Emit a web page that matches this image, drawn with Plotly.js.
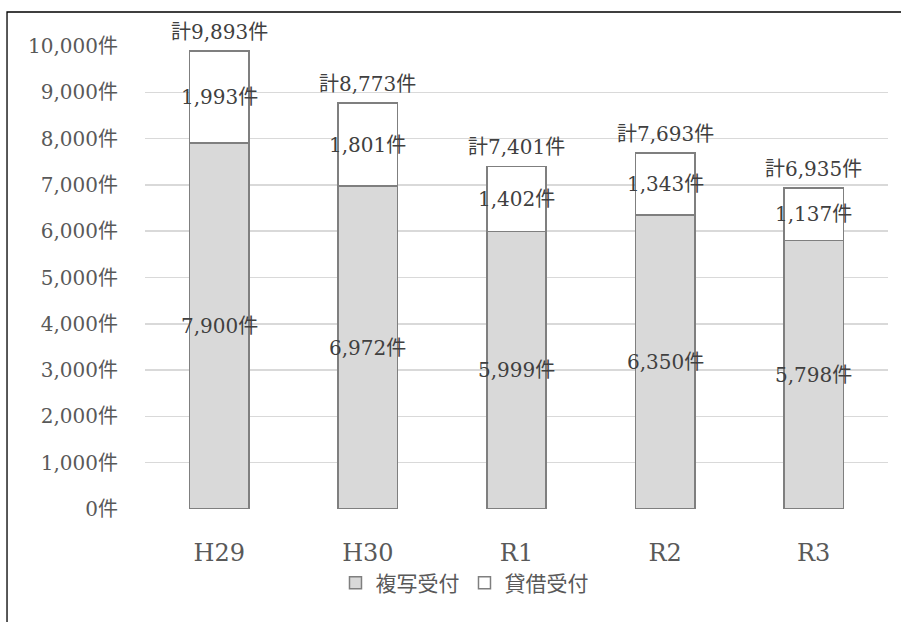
<!DOCTYPE html>
<html>
<head>
<meta charset="utf-8">
<script src="https://cdn.plot.ly/plotly-3.0.1.min.js"></script>
<style>
  html, body { margin: 0; padding: 0; background: #ffffff; }
  #chart { width: 901px; height: 622px; }
</style>
</head>
<body>
<div id="chart"></div>
<script>
// 年度別の受付件数（複写・貸借）
const years = ['H29', 'H30', 'R1', 'R2', 'R3'];
const copyCounts = [7900, 6972, 5999, 6350, 5798];
const loanCounts = [1993, 1801, 1402, 1343, 1137];
const totals = [9893, 8773, 7401, 7693, 6935];
const seriesNames = ['複写受付', '貸借受付'];
const yTickVals = [0, 1000, 2000, 3000, 4000, 5000, 6000, 7000, 8000, 9000, 10000];
const yTickText = ['0件', '1,000件', '2,000件', '3,000件', '4,000件', '5,000件',
                   '6,000件', '7,000件', '8,000件', '9,000件', '10,000件'];

const FONT = "DejaVu Serif, Noto Sans CJK JP";
const fmt = v => v.toLocaleString('en-US');

const traces = [
  {
    type: 'bar', name: seriesNames[0], x: years, y: copyCounts,
    marker: { color: '#d9d9d9', line: { color: '#7f7f7f', width: 1.5 } },
    hoverinfo: 'skip'
  },
  {
    type: 'bar', name: seriesNames[1], x: years, y: loanCounts,
    marker: { color: '#ffffff', line: { color: '#7f7f7f', width: 1.5 } },
    hoverinfo: 'skip'
  }
];

const labelFont = { family: FONT, size: 20, color: '#404040' };
const annotations = [];
years.forEach((yr, i) => {
  // 複写受付の件数（棒の中央）
  annotations.push({
    x: yr, y: copyCounts[i] / 2, xref: 'x', yref: 'y',
    text: fmt(copyCounts[i]) + '件', showarrow: false, font: labelFont
  });
  // 貸借受付の件数
  annotations.push({
    x: yr, y: copyCounts[i] + loanCounts[i] / 2, xref: 'x', yref: 'y',
    text: fmt(loanCounts[i]) + '件', showarrow: false, font: labelFont
  });
  // 合計
  annotations.push({
    x: yr, y: totals[i], xref: 'x', yref: 'y', yanchor: 'bottom', yshift: 5,
    text: '計' + fmt(totals[i]) + '件', showarrow: false, font: labelFont
  });
});

const layout = {
  width: 901, height: 622,
  margin: { l: 145, r: 13, t: 46, b: 113 },
  paper_bgcolor: '#ffffff', plot_bgcolor: '#ffffff',
  barmode: 'stack',
  bargap: 0.6,
  showlegend: true,
  legend: {
    orientation: 'h', x: 0.43, xanchor: 'center', y: -0.16, yanchor: 'middle',
    font: { family: FONT, size: 21, color: '#595959' },
    traceorder: 'normal'
  },
  xaxis: {
    type: 'category',
    showgrid: false, zeroline: false, showline: false,
    ticks: 'outside', ticklen: 22, tickcolor: 'rgba(0,0,0,0)',
    tickfont: { family: FONT, size: 24, color: '#595959' }
  },
  yaxis: {
    range: [0, 10000],
    tickmode: 'array', tickvals: yTickVals, ticktext: yTickText,
    showgrid: true, gridcolor: '#d9d9d9', gridwidth: 1.5,
    zeroline: false, showline: false,
    ticks: 'outside', ticklen: 22, tickcolor: 'rgba(0,0,0,0)',
    tickfont: { family: FONT, size: 20, color: '#595959' }
  },
  annotations: annotations,
  shapes: [
    {
      type: 'rect', xref: 'paper', yref: 'paper',
      x0: -0.1857, x1: 1.2, y0: -0.4, y1: 1.0734,
      line: { color: '#000000', width: 1.3 }, fillcolor: 'rgba(0,0,0,0)'
    }
  ]
};

Plotly.newPlot('chart', traces, layout, { displayModeBar: false, staticPlot: true });
</script>
</body>
</html>
